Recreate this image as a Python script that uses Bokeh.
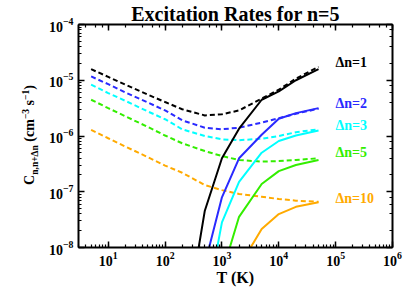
from bokeh.plotting import figure
from bokeh.models import LogAxis, Label, Div
from bokeh.layouts import row
from bokeh.embed import file_html
from bokeh.resources import INLINE

# ---------------- data ----------------
T_all = [5, 10, 20, 50, 100, 200, 500, 1000, 2000, 5000, 1e4, 2e4, 5e4]

dn1_dashed = [1.58e-5, 1.15e-5, 8.32e-6, 5.50e-6, 4.07e-6, 3.02e-6, 2.34e-6, 2.45e-6, 2.88e-6, 4.68e-6, 6.76e-6, 1.07e-5, 1.74e-5]
dn2_dashed = [1.17e-5, 8.51e-6, 6.03e-6, 3.98e-6, 2.88e-6, 1.91e-6, 1.41e-6, 1.32e-6, 1.41e-6, 1.74e-6, 2.09e-6, 2.51e-6, 3.09e-6]
dn3_dashed = [8.32e-6, 5.89e-6, 4.27e-6, 2.75e-6, 2.00e-6, 1.32e-6, 1.00e-6, 8.71e-7, 8.41e-7, 8.91e-7, 1.00e-6, 1.17e-6, 1.32e-6]
dn5_dashed = [4.47e-6, 3.16e-6, 2.26e-6, 1.45e-6, 1.02e-6, 7.41e-7, 5.37e-7, 4.37e-7, 3.72e-7, 3.47e-7, 3.55e-7, 3.72e-7, 3.98e-7]
dn10_dashed = [1.29e-6, 9.12e-7, 6.46e-7, 4.17e-7, 2.95e-7, 2.19e-7, 1.32e-7, 1.07e-7, 9.12e-8, 8.13e-8, 7.41e-8, 6.92e-8, 6.61e-8]

T_dn1 = [200, 500, 1000, 2000, 5000, 1e4, 2e4, 5e4]
dn1_solid = [1.7e-10, 4.57e-8, 3.98e-7, 1.35e-6, 4.47e-6, 6.31e-6, 1.00e-5, 1.58e-5]
T_dn2 = [500, 1000, 2000, 5000, 1e4, 2e4, 5e4]
dn2_solid = [5.0e-9, 7.94e-8, 3.98e-7, 1.05e-6, 2.04e-6, 2.57e-6, 3.16e-6]
T_dn3 = [500, 1000, 2000, 5000, 1e4, 2e4, 5e4]
dn3_solid = [6.5e-10, 2.82e-8, 1.51e-7, 5.01e-7, 8.13e-7, 1.02e-6, 1.26e-6]
T_dn5 = [1000, 2000, 5000, 1e4, 2e4, 5e4]
dn5_solid = [3.4e-9, 3.55e-8, 1.38e-7, 2.34e-7, 3.02e-7, 3.72e-7]
T_dn10 = [2000, 5000, 1e4, 2e4, 5e4]
dn10_solid = [4.5e-9, 2.14e-8, 3.98e-8, 5.37e-8, 6.46e-8]

series_labels = ["\u0394n=1", "\u0394n=2", "\u0394n=3", "\u0394n=5", "\u0394n=10"]
colors = ["black", "#2a2aff", "#00ffff", "#33ee00", "#ffaa00"]

FONT = "Liberation Serif"

p = figure(width=370, height=296, x_axis_type="log", y_axis_type="log",
           x_range=(3, 1e6), y_range=(1e-8, 1e-4),
           output_backend="svg", toolbar_location=None,
           min_border_left=34, min_border_right=22, min_border_top=24, min_border_bottom=49)
p.grid.visible = False
p.outline_line_color = None
p.background_fill_color = "white"
p.border_fill_color = "white"

p.title.text = "Excitation Rates for n=5"
p.title.align = "center"
p.title.offset = 6
p.title.text_font = FONT
p.title.text_font_style = "bold"
p.title.text_font_size = "20px"
p.title.standoff = 0
p.title.text_color = "black"

p.add_layout(LogAxis(), "right")
p.add_layout(LogAxis(), "above")

for ax in p.axis:
    ax.axis_line_width = 2
    ax.axis_line_color = "black"
    ax.major_tick_in = 6
    ax.major_tick_out = 0
    ax.minor_tick_in = 3
    ax.minor_tick_out = 0
    ax.major_tick_line_width = 1.5
    ax.minor_tick_line_width = 1.2
    ax.major_label_text_font = FONT
    ax.major_label_text_font_style = "bold"
    ax.major_label_text_font_size = "14px"
    ax.major_label_text_color = "black"

for ax in p.right + p.above:
    ax.major_label_text_font_size = "1px"
    ax.major_label_text_alpha = 0
    ax.major_label_standoff = 0

xa = p.below[0]
xa.major_label_standoff = 4
xa.axis_label = "T (K)"
xa.axis_label_text_font = FONT
xa.axis_label_text_font_style = "bold"
xa.axis_label_text_font_size = "16px"
xa.axis_label_standoff = 0
xa.axis_label_text_color = "black"
p.left[0].major_label_standoff = 5

dashed = [dn1_dashed, dn2_dashed, dn3_dashed, dn5_dashed, dn10_dashed]
solidT = [T_dn1, T_dn2, T_dn3, T_dn5, T_dn10]
solid = [dn1_solid, dn2_solid, dn3_solid, dn5_solid, dn10_solid]

for d, c in zip(dashed, colors):
    p.line(T_all, d, line_color=c, line_width=2, line_dash="5 3")
for t, s, c in zip(solidT, solid, colors):
    p.line(t, s, line_color=c, line_width=2)

# series labels (offsets from the frame's lower-left corner, pixels)
label_y = [184.8, 144.3, 121.8, 94.6, 48.6]
for txt, c, yy in zip(series_labels, colors, label_y):
    p.add_layout(Label(x=257, y=yy, x_units="screen", y_units="screen", text=txt,
                       text_color=c, text_font=FONT, text_font_style="bold",
                       text_font_size="14px", text_baseline="middle", text_align="left"))

ylabel_html = (
    '<div style="position:absolute; left:31px; top:135px; '
    'transform:translate(-50%,-50%) rotate(-90deg); white-space:nowrap; '
    "font-family:'Liberation Serif'; font-weight:bold; font-size:14px; line-height:1; color:black;\">"
    'C<sub style="font-size:9.5px;">n,n+\u0394n</sub> (cm<sup style="font-size:9.5px;">\u22123</sup>'
    ' s<sup style="font-size:9.5px;">\u22121</sup>)</div>'
)
ydiv = Div(text=ylabel_html, width=44, height=296, margin=0, styles={"overflow": "visible"})

layout = row(ydiv, p, spacing=0)

open("out.html", "w").write(file_html(layout, INLINE))
